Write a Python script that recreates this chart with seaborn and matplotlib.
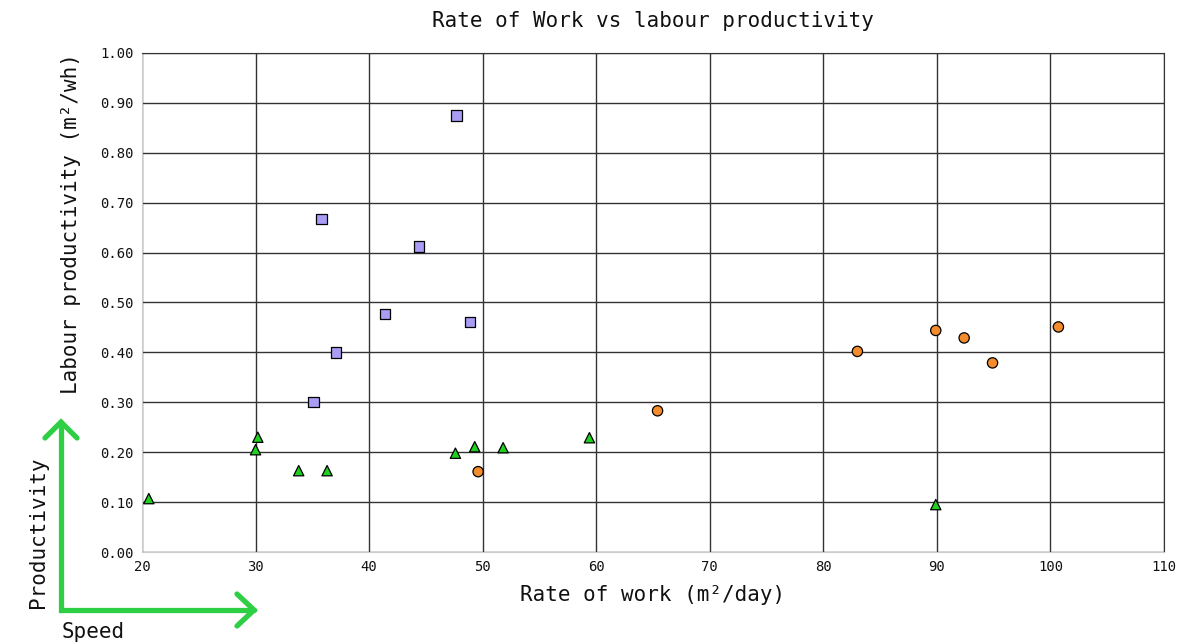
import matplotlib.pyplot as plt
import numpy as np
import pandas as pd
import seaborn as sns

# data
speed_sq = [35.8, 47.7, 44.4, 41.4, 48.9, 37.1, 35.1]
prod_sq = [0.667, 0.875, 0.612, 0.477, 0.461, 0.400, 0.300]

speed_circ = [49.6, 65.4, 83.0, 89.9, 92.4, 94.9, 100.7]
prod_circ = [0.161, 0.283, 0.402, 0.444, 0.429, 0.379, 0.451]

speed_tri = [20.6, 30.0, 30.2, 33.8, 36.3, 47.6, 49.3, 51.8, 59.4, 89.9]
prod_tri = [0.107, 0.205, 0.230, 0.163, 0.163, 0.198, 0.211, 0.209, 0.229, 0.095]

x_ticks = [20, 30, 40, 50, 60, 70, 80, 90, 100, 110]
y_ticks = [0.0, 0.1, 0.2, 0.3, 0.4, 0.5, 0.6, 0.7, 0.8, 0.9, 1.0]

df = pd.DataFrame({
    'speed': speed_sq + speed_circ + speed_tri,
    'prod': prod_sq + prod_circ + prod_tri,
    'group': ['sq'] * len(speed_sq) + ['circ'] * len(speed_circ) + ['tri'] * len(speed_tri),
})

sns.set_style("white")
plt.rcParams['font.family'] = ['DejaVu Sans Mono']

fig = plt.figure(figsize=(11.97, 6.44), dpi=100)
ax = fig.add_axes([142 / 1197, 1 - 552 / 644, (1164 - 142) / 1197, (552 - 53) / 644])

palette = {'sq': '#a99cf5', 'circ': '#f58c2c', 'tri': '#1fd11f'}
markers = {'sq': 's', 'circ': 'o', 'tri': '^'}
sns.scatterplot(data=df, x='speed', y='prod', hue='group', style='group',
                palette=palette, markers=markers, s=55, edgecolor='black',
                linewidth=0.9, legend=False, ax=ax, zorder=3)

ax.set_xlim(20, 110)
ax.set_ylim(0, 1.0)
ax.set_xticks(x_ticks)
ax.set_yticks(y_ticks)
ax.set_yticklabels([f'{v:.2f}' for v in y_ticks])
ax.tick_params(length=0, labelsize=10, pad=6, colors='#111111')
ax.grid(True, color='#333333', linewidth=1)
ax.set_axisbelow(True)
for side in ['left', 'bottom']:
    ax.spines[side].set_color('#cccccc')
for side in ['top', 'right']:
    ax.spines[side].set_color('#333333')

ax.set_title('Rate of Work vs labour productivity', fontsize=15, pad=19, color='#111111')
ax.set_xlabel('Rate of work (m²/day)', fontsize=15, labelpad=8, color='#111111')
ax.set_ylabel('Labour productivity (m²/wh)', fontsize=15, labelpad=14, loc='top', color='#111111')

# green speed / productivity arrows drawn in pixel space
ov = fig.add_axes([0, 0, 1, 1], facecolor='none')
ov.set_xlim(0, 1197)
ov.set_ylim(644, 0)
ov.axis('off')
green = '#2fcf45'
ov.plot([61, 61, 254], [422, 610, 610], color=green, lw=3.8, solid_joinstyle='miter')
ov.plot([45, 61, 77], [438, 422, 438], color=green, lw=3.8, solid_joinstyle='miter')
ov.plot([237, 254, 237], [594, 610, 626], color=green, lw=3.8, solid_joinstyle='miter')
ov.text(38, 532, 'Productivity', rotation=90, ha='center', va='center', fontsize=15, color='#111111')
ov.text(62, 632, 'Speed', ha='left', va='center', fontsize=15, color='#111111')

fig.savefig('out.png', dpi=100)
